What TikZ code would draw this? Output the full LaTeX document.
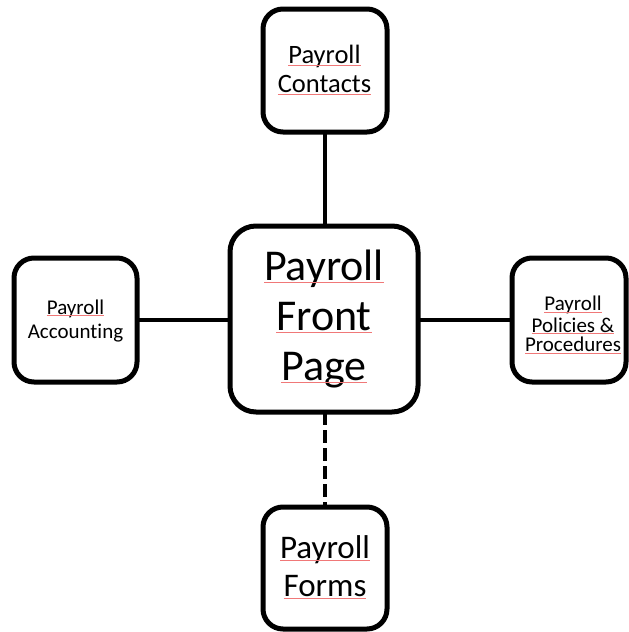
\documentclass[tikz,border=0pt]{standalone}
\usepackage{fontspec}
\setmainfont{Carlito}[Ligatures=NoCommon]
\definecolor{proofred}{RGB}{240,120,120}
\begin{document}
\begin{tikzpicture}[x=1pt,y=-1pt,
  box/.style={draw, line width=5pt, rounded corners=#1,
    inner sep=0pt, outer sep=0pt, fill=white},
  word/.style={inner sep=0pt, outer sep=0pt, anchor=base},
  huge/.style={word, font=\fontsize{44}{50}\selectfont},
  large/.style={word, font=\fontsize{33}{38}\selectfont},
  medium/.style={word, font=\fontsize{26.5}{29}\selectfont},
  small/.style={word, font=\fontsize{21}{25}\selectfont},
  proof/.style={draw=proofred, line width=0.7pt},
  link/.style={line width=4.5pt},
  dashlink/.style={line width=4.5pt, dash pattern=on 13pt off 5pt}]
\useasboundingbox (0,0) rectangle (629,632);

% boxes
\node[box=26pt, minimum width=188pt, minimum height=186pt] (front) at (324,319) {};
\node[box=20pt, minimum width=124pt, minimum height=123pt] (contacts) at (325,70.5) {};
\node[box=20pt, minimum width=123pt, minimum height=124pt] (accounting) at (75.5,320) {};
\node[box=20pt, minimum width=114pt, minimum height=124pt] (policies) at (569,320) {};
\node[box=20pt, minimum width=124pt, minimum height=122pt] (forms) at (325,568) {};

% labels, one node per line
\node[huge] (f1) at (324,280) {Payroll};
\node[huge] (f2) at (324,330) {Front};
\node[huge] (f3) at (324,380) {Page};

\node[medium] (c1) at (324.5,63.3) {Payroll};
\node[medium] (c2) at (324.5,92.3) {Contacts};

\node[small] (a1) at (75.5,314) {Payroll};
\node[small] (a2) at (75.5,338) {Accounting};

\node[small] (p1) at (573,310.7) {Payroll};
\node[small] (p2) at (573,332) {Policies \&};
\node[small] (p3) at (573,351.5) {Procedures};

\node[large] (m1) at (325,558) {Payroll};
\node[large] (m2) at (325,596.5) {Forms};

% proofing underlines
\foreach \w/\d in {f1/2.8pt, f2/2.8pt, f3/2.8pt, c1/1.9pt, c2/1.9pt,
                   a1/1.5pt, p1/1.5pt, p2/1.5pt, p3/1.5pt, m1/2.3pt, m2/2.3pt}
  \draw[proof] ([yshift=-\d]\w.base west) -- ([yshift=-\d]\w.base east);

% connectors
\draw[link] (contacts.south) -- (front.north -| contacts.south);
\draw[link] (accounting.east) -- (front.west |- accounting.east);
\draw[link] (front.east |- policies.west) -- (policies.west);
\draw[dashlink] (front.south -| forms.north) -- (forms.north);
\end{tikzpicture}
\end{document}
